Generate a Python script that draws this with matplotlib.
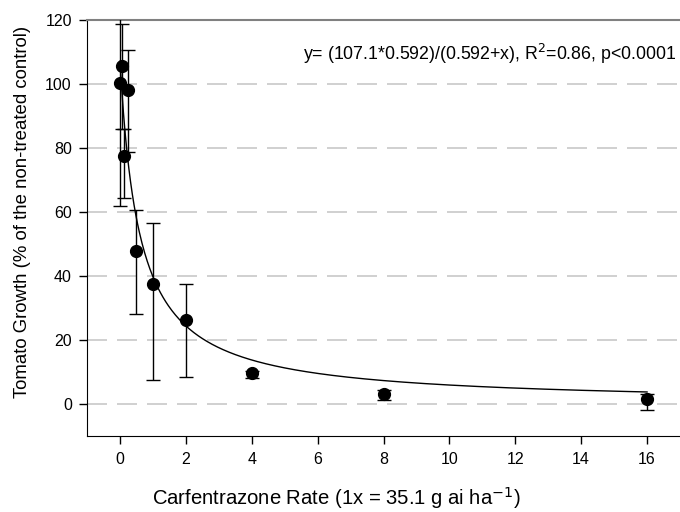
import numpy as np
import matplotlib
matplotlib.use("Agg")
import matplotlib.pyplot as plt

plt.rcParams['font.family'] = ['Liberation Sans', 'DejaVu Sans']

# rate (x of 35.1 g ai/ha) and tomato growth (% of control)
rate = [0, 0.0625, 0.125, 0.25, 0.5, 1, 2, 4, 8, 16]
growth = [100.2, 105.7, 77.6, 98.1, 47.9, 37.4, 26.2, 9.6, 3.1, 1.6]
err_low = [38.4, 19.9, 13.1, 19.3, 19.8, 29.7, 17.7, 1.3, 1.85, 3.5]
err_high = [38.4, 12.9, 8.2, 12.6, 12.7, 19.3, 11.4, 0.7, 1.3, 1.7]

# fitted model y = a*b/(b+x)
a_fit = 107.1
b_fit = 0.592

xticks = np.arange(0, 17, 2)
yticks = np.arange(0, 121, 20)

fig = plt.figure(figsize=(6.8, 5.12), dpi=100)
ax = fig.add_axes([0.128, 0.148, 0.872, 0.813])

for yv in yticks[:-1]:
    ax.axhline(yv, color='#c8c8c8', lw=1.2, dashes=(12, 6), zorder=0)

xs = np.linspace(0, 16, 600)
ax.plot(xs, a_fit * b_fit / (b_fit + xs), color='black', lw=1.0, zorder=2)

ax.errorbar(rate, growth, yerr=[err_low, err_high], fmt='o', color='black',
            ms=8.5, elinewidth=1.0, capsize=4.8, capthick=1.0, zorder=3)

ax.text(0.993, 0.905,
        'y= (107.1*0.592)/(0.592+x), R$^2$=0.86, p<0.0001',
        transform=ax.transAxes, ha='right', va='baseline', fontsize=12.8)

ax.set_xlim(-1, 17)
ax.set_ylim(-10, 120)
ax.set_xticks(xticks)
ax.set_yticks(yticks)
ax.tick_params(direction='out', length=6, width=1, labelsize=11.5, pad=5)

ax.spines['right'].set_visible(False)
ax.spines['top'].set_color('#808080')
ax.spines['top'].set_linewidth(1.5)

ax.set_xlabel('Carfentrazone Rate (1x = 35.1 g ai ha$^{-1}$)', fontsize=14.6)
ax.set_ylabel('Tomato Growth (% of the non-treated control)', fontsize=13.4)
ax.xaxis.set_label_coords(0.42, -0.118)
ax.yaxis.set_label_coords(-0.094, 0.538)

plt.savefig('out.png', dpi=100)
